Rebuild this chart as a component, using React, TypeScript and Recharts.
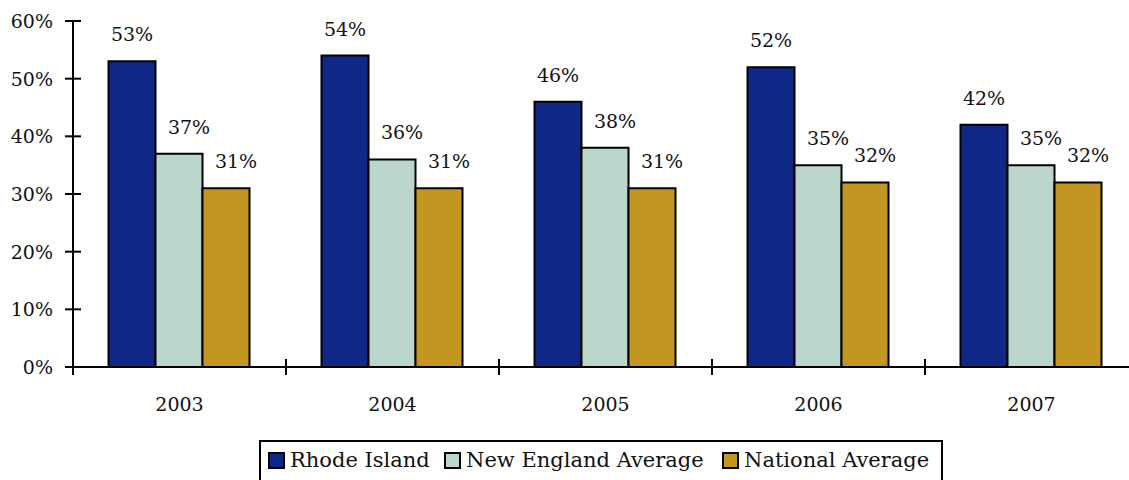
import React from 'react';
import { BarChart, Bar, XAxis, YAxis, Legend, LabelList } from 'recharts';

const years = ['2003', '2004', '2005', '2006', '2007'];
const rhodeIsland = [53, 54, 46, 52, 42];
const newEngland = [37, 36, 38, 35, 35];
const national = [31, 31, 31, 32, 32];
const yTicks = [0, 10, 20, 30, 40, 50, 60];

const seriesNames = ['Rhode Island', 'New England Average', 'National Average'];
const colors = ['#0f2888', '#bbd6ca', '#c39622'];
const legendItemWidths = [176, 278, 220];

const data = years.map((y, i) => ({
  year: y,
  ri: rhodeIsland[i],
  ne: newEngland[i],
  na: national[i],
}));

const FONT = '"DejaVu Serif", serif';

const YTick = (props: any) => {
  const { x, y, payload } = props;
  const axisX = x + 20;
  return (
    <g>
      <line x1={axisX - 8} x2={axisX + 8} y1={y} y2={y} stroke="#000" strokeWidth={2} />
      <text x={x} y={y} dy={7} textAnchor="end" fontFamily={FONT} fontSize={19} fill="#111">
        {`${payload.value}%`}
      </text>
    </g>
  );
};

const XTick = (props: any) => {
  const { x, y, payload } = props;
  const half = payload && typeof payload.offset === 'number' && payload.offset > 0 ? payload.offset : 106.5;
  const axisY = y - 8;
  return (
    <g>
      <line x1={x - half} x2={x - half} y1={axisY - 8} y2={axisY + 8} stroke="#000" strokeWidth={2} />
      <text x={x} y={axisY + 44} textAnchor="middle" fontFamily={FONT} fontSize={19} fill="#111">
        {payload.value}
      </text>
    </g>
  );
};

const makeLabel = (dx: number) => (props: any) => {
  const { x, y, width, value } = props;
  return (
    <text
      x={Number(x) + Number(width) / 2 + dx}
      y={Number(y) - 20}
      textAnchor="middle"
      fontFamily={FONT}
      fontSize={19}
      fill="#111"
    >
      {`${value}%`}
    </text>
  );
};

const LegendBox = () => (
  <div
    style={{
      boxSizing: 'border-box',
      width: 684,
      height: 42,
      border: '2px solid #000',
      display: 'flex',
      alignItems: 'center',
      paddingLeft: 7,
      paddingBottom: 2,
      fontFamily: FONT,
      fontSize: 21,
      color: '#111',
      background: '#fff',
    }}
  >
    {seriesNames.map((n, i) => (
      <div key={n} style={{ display: 'flex', alignItems: 'center', width: legendItemWidths[i], flex: 'none' }}>
        <span
          style={{
            display: 'inline-block',
            boxSizing: 'border-box',
            width: 17,
            height: 17,
            border: '2px solid #000',
            background: colors[i],
            marginRight: 5,
            flex: 'none',
          }}
        />
        <span style={{ whiteSpace: 'nowrap' }}>{n}</span>
      </div>
    ))}
  </div>
);

export default function App() {
  return (
    <div style={{ position: 'absolute', left: 0, top: 0, width: 1129, height: 480, overflow: 'hidden', background: '#fff' }}>
      <BarChart
        width={1140}
        height={480}
        data={data}
        margin={{ top: 21, right: 2, bottom: 0, left: 0 }}
        barCategoryGap="16.67%"
        barGap={0}
      >
        <XAxis
          dataKey="year"
          height={71}
          tickSize={8}
          tickMargin={0}
          tickLine={false}
          axisLine={{ stroke: '#000', strokeWidth: 2 }}
          tick={<XTick />}
          interval={0}
        />
        <YAxis
          width={73}
          domain={[0, 60]}
          ticks={yTicks}
          tickSize={8}
          tickMargin={12}
          tickLine={false}
          axisLine={{ stroke: '#000', strokeWidth: 2 }}
          tick={<YTick />}
          interval={0}
        />
        <Legend
          verticalAlign="bottom"
          content={<LegendBox />}
          wrapperStyle={{ left: 259, width: 684, bottom: -2 }}
        />
        <Bar dataKey="ri" name={seriesNames[0]} fill={colors[0]} stroke="#000" strokeWidth={2} isAnimationActive={false}>
          <LabelList dataKey="ri" content={makeLabel(0)} />
        </Bar>
        <Bar dataKey="ne" name={seriesNames[1]} fill={colors[1]} stroke="#000" strokeWidth={2} isAnimationActive={false}>
          <LabelList dataKey="ne" content={makeLabel(10)} />
        </Bar>
        <Bar dataKey="na" name={seriesNames[2]} fill={colors[2]} stroke="#000" strokeWidth={2} isAnimationActive={false}>
          <LabelList dataKey="na" content={makeLabel(10)} />
        </Bar>
      </BarChart>
    </div>
  );
}
